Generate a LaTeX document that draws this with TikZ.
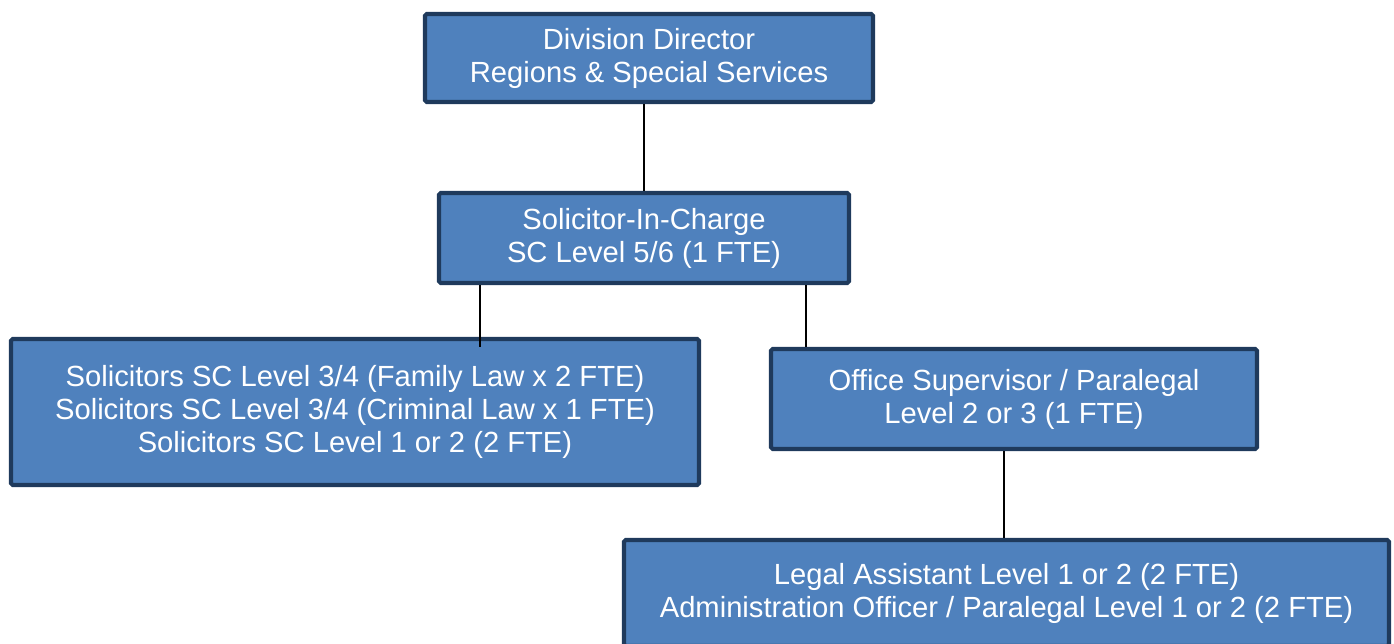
\documentclass[tikz,border=0pt]{standalone}
\usepackage{fontspec}
\setmainfont{Liberation Sans}
\usepackage{tikz}
\usetikzlibrary{positioning}
\definecolor{boxfill}{HTML}{4F81BD}
\definecolor{boxline}{HTML}{1F3A5C}

\begin{document}
\begin{tikzpicture}[
  font=\fontsize{16.6}{18.8}\selectfont,
  st/.style={draw=boxline, fill=boxfill, line width=2.3pt, rounded corners=1pt,
             align=center, inner sep=2pt, text=white},
  ln/.style={-, line width=1.1pt, black},
]
  \useasboundingbox (0,0) rectangle (27.88,-12.86);
  \node[st, minimum width=8.96cm,  minimum height=1.76cm] (D) at (12.98,-1.16)
       {Division Director\\Regions \& Special Services};
  \node[st, minimum width=8.2cm,   minimum height=1.8cm]  (S) at (12.88,-4.76)
       {Solicitor-In-Charge\\SC Level 5/6 (1 FTE)};
  \node[st, minimum width=13.76cm, minimum height=2.92cm] (L) at (7.10,-8.24)
       {Solicitors SC Level 3/4 (Family Law x 2 FTE)\\
        Solicitors SC Level 3/4 (Criminal Law x 1 FTE)\\
        Solicitors SC Level 1 or 2 (2 FTE)};
  \node[st, minimum width=9.72cm,  minimum height=2.0cm]  (O) at (20.28,-7.98)
       {Office Supervisor / Paralegal\\Level 2 or 3 (1 FTE)};
  \node[st, minimum width=15.3cm,  minimum height=2.12cm] (A) at (20.13,-11.86)
       {Legal Assistant Level 1 or 2 (2 FTE)\\
        Administration Officer / Paralegal Level 1 or 2 (2 FTE)};
  % drop points below the solicitor-in-charge box
  \coordinate (sl) at (9.60,-6.94);
  \coordinate (so) at (16.12,-6.94);
  \coordinate (oa) at (20.08,-10.78);
  \draw[ln] (D.south -| S.north) -- (S.north);
  \draw[ln] (S.south -| sl) -- (sl);
  \draw[ln] (S.south -| so) -- (O.north -| so);
  \draw[ln] (O.south -| oa) -- (A.north -| oa);
\end{tikzpicture}
\end{document}
